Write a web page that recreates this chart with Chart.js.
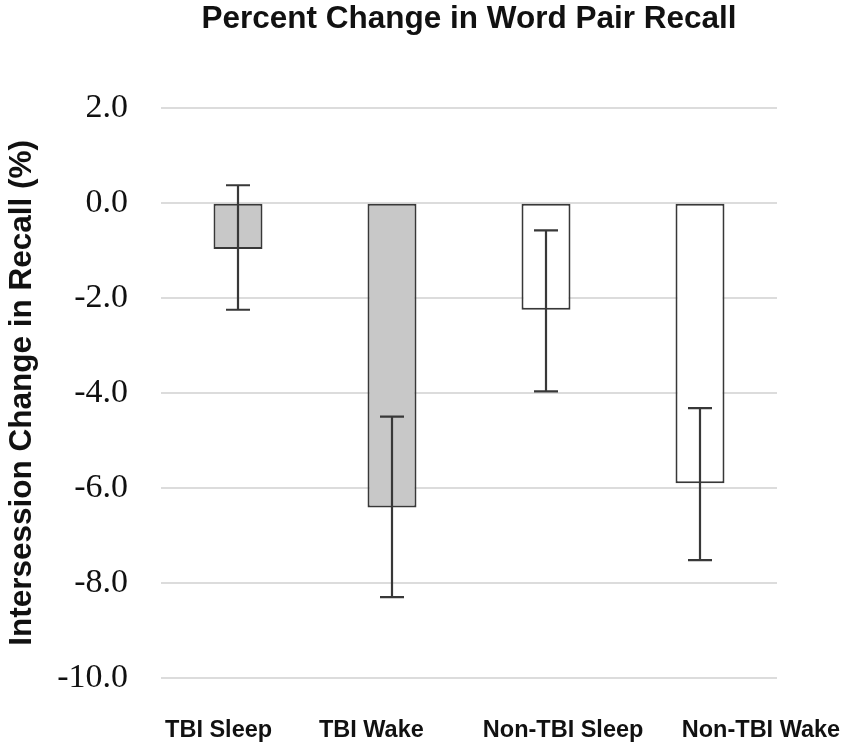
<!DOCTYPE html>
<html><head><meta charset="utf-8">
<script src="https://cdn.jsdelivr.net/npm/chart.js@4.4.1/dist/chart.umd.min.js"></script>
<style>html,body{margin:0;padding:0;background:#fff}#wrap{width:850px;height:752px;position:relative}</style>
</head><body><div id="wrap"><canvas id="c"></canvas></div>
<script>
const categories = ['TBI Sleep', 'TBI Wake', 'Non-TBI Sleep', 'Non-TBI Wake'];
const meanChange = [-0.97, -6.41, -2.25, -5.9];
const errorUpper = [0.37, -4.5, -0.58, -4.32];
const errorLower = [-2.25, -8.3, -3.97, -7.52];
const barFills = ['#c8c8c8', '#c8c8c8', '#ffffff', '#ffffff'];
const yMin = -10, yMax = 2, yStep = 2;

const labelNudge = [-0.126, -0.134, 0.111, 0.396];

const errorBars = {
  id: 'errorBars',
  afterDatasetsDraw(chart) {
    const ctx = chart.ctx;
    const meta = chart.getDatasetMeta(0);
    const y = chart.scales.y;
    ctx.save();
    ctx.strokeStyle = '#383838';
    ctx.lineWidth = 2.2;
    meta.data.forEach((bar, i) => {
      const x = bar.x;
      const yh = y.getPixelForValue(errorUpper[i]);
      const yl = y.getPixelForValue(errorLower[i]);
      const cap = 12;
      ctx.beginPath();
      ctx.moveTo(x, yh); ctx.lineTo(x, yl);
      ctx.moveTo(x - cap, yh); ctx.lineTo(x + cap, yh);
      ctx.moveTo(x - cap, yl); ctx.lineTo(x + cap, yl);
      ctx.stroke();
    });
    ctx.restore();
  }
};

new Chart(document.getElementById('c'), {
  type: 'bar',
  data: {
    labels: categories,
    datasets: [{
      data: meanChange,
      backgroundColor: barFills,
      borderColor: '#383838',
      borderWidth: 2,
      borderSkipped: false,
      barPercentage: 0.318,
      categoryPercentage: 1.0
    }]
  },
  options: {
    responsive: true,
    maintainAspectRatio: false,
    animation: false,
    layout: { padding: { left: 0, right: 73, top: 0, bottom: 8 } },
    plugins: {
      legend: { display: false },
      tooltip: { enabled: false },
      title: {
        display: true,
        text: 'Percent Change in Word Pair Recall',
        color: '#111',
        fullSize: false,
        font: { family: 'Liberation Sans', size: 31.5, weight: 'bold' },
        padding: { top: 0, bottom: 70 }
      }
    },
    scales: {
      x: { type: 'category', display: false },
      x2: {
        type: 'linear',
        position: 'bottom',
        min: -0.5,
        max: 3.5,
        offset: false,
        grid: { display: false, drawTicks: false, offset: false },
        border: { display: false },
        afterBuildTicks(axis) {
          axis.ticks = categories.map((c, i) => ({ value: i + labelNudge[i] }));
        },
        afterFit(axis) {
          axis.height = 66;
          axis.paddingLeft = 0;
          axis.paddingRight = 0;
        },
        ticks: {
          autoSkip: false,
          maxRotation: 0,
          minRotation: 0,
          padding: 38,
          color: '#111',
          font: { family: 'Liberation Sans', size: 23.5, weight: 'bold' },
          callback: (v, i) => categories[i]
        }
      },
      y: {
        min: yMin,
        max: yMax,
        grid: { color: '#dcdcdc', lineWidth: 2, drawTicks: false },
        border: { display: false },
        afterFit(s) { s.width = 161; },
        ticks: {
          stepSize: yStep,
          padding: 33,
          color: '#111',
          font: { family: 'Liberation Serif', size: 34 },
          callback: v => Number(v).toFixed(1)
        },
        title: {
          display: true,
          text: 'Intersession Change in Recall (%)',
          color: '#111',
          font: { family: 'Liberation Sans', size: 31.5, weight: 'bold' },
          padding: { top: 3, bottom: 3 }
        }
      }
    }
  },
  plugins: [errorBars]
});
</script>
</body></html>
